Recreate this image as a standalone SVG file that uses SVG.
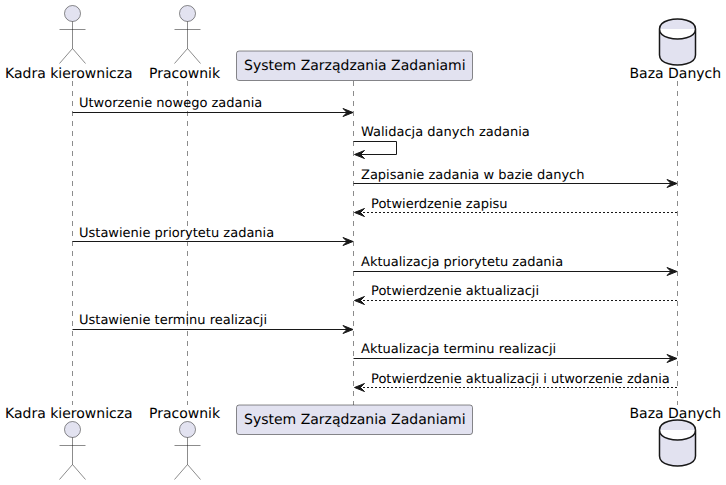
<svg xmlns="http://www.w3.org/2000/svg" width="726" height="485" viewBox="0 0 726 485">
<style>
text{font-family:"DejaVu Sans",sans-serif;fill:#000;text-rendering:geometricPrecision}
.n{font-size:14px}
.m{font-size:13px}
.life{stroke:#181818;stroke-width:.5;stroke-dasharray:5 5;fill:none}
.actor{fill:none;stroke:#181818;stroke-width:.5}
.head{fill:#E2E2F0;stroke:#181818;stroke-width:.5}
.box{fill:#E2E2F0;stroke:#181818;stroke-width:.5}
.db{fill:#E2E2F0;stroke:#181818;stroke-width:1.5}
.line{stroke:#181818;stroke-width:1;fill:none}
.ret{stroke:#181818;stroke-width:1;fill:none;stroke-dasharray:2 2}
.ah{fill:#181818;stroke:#181818;stroke-width:1}
</style>
<defs>
<g id="act"><circle class="head" cx="0" cy="0" r="8"/><path class="actor" d="M0,8V35M-13,16H13M0,35L-13,50M0,35L13,50"/></g>
<path id="db" class="db" d="M-18,10C-18,0 0,0 0,0C0,0 18,0 18,10V36C18,46 0,46 0,46C0,46 -18,46 -18,36ZM-18,10C-18,20 0,20 0,20C0,20 18,20 18,10"/>
<path id="ar" class="ah" d="M0,0L-10,-4L-6,0L-10,4Z"/>
<path id="al" class="ah" d="M0,0L10,-4L6,0L10,4Z"/>
</defs>
<g id="lifelines">
<path class="life" d="M72.500,81V405M187.500,81V405M353.500,81V405M677.500,81V405"/>
</g>
<g id="connectors">
<path class="line" d="M72.500,112.500H352"/><use href="#ar" x="353" y="112.500"/>
<path class="line" d="M353.500,141.500H396.500V154.500H355"/><use href="#al" x="354.500" y="154.500"/>
<path class="line" d="M353.500,183.500H676"/><use href="#ar" x="677" y="183.500"/>
<path class="ret" d="M355,212.500H677"/><use href="#al" x="354.500" y="212.500"/>
<path class="line" d="M72.500,241.500H352"/><use href="#ar" x="353" y="241.500"/>
<path class="line" d="M353.500,271.500H676"/><use href="#ar" x="677" y="271.500"/>
<path class="ret" d="M355,300.500H677"/><use href="#al" x="354.500" y="300.500"/>
<path class="line" d="M72.500,329.500H352"/><use href="#ar" x="353" y="329.500"/>
<path class="line" d="M353.500,358.500H676"/><use href="#ar" x="677" y="358.500"/>
<path class="ret" d="M355,387.500H677"/><use href="#al" x="354.500" y="387.500"/>
</g>
<g id="labels">
<text class="m" x="79" y="107">Utworzenie nowego zadania</text>
<text class="m" x="361" y="136">Walidacja danych zadania</text>
<text class="m" x="361" y="179">Zapisanie zadania w bazie danych</text>
<text class="m" x="371" y="208">Potwierdzenie zapisu</text>
<text class="m" x="79" y="237">Ustawienie priorytetu zadania</text>
<text class="m" x="361" y="266">Aktualizacja priorytetu zadania</text>
<text class="m" x="371" y="295">Potwierdzenie aktualizacji</text>
<text class="m" x="79" y="324">Ustawienie terminu realizacji</text>
<text class="m" x="361" y="353">Aktualizacja terminu realizacji</text>
<text class="m" x="371" y="383">Potwierdzenie aktualizacji i utworzenie zdania</text>
</g>
<g id="kadra-top"><use href="#act" x="72.500" y="13.500"/><text class="n" x="5" y="78">Kadra kierownicza</text></g>
<g id="pracownik-top"><use href="#act" x="187.500" y="13.500"/><text class="n" x="149" y="78">Pracownik</text></g>
<g id="system-top"><rect class="box" x="236.500" y="51" width="236" height="29.500" rx="2.500"/><text class="n" x="244" y="70">System Zarządzania Zadaniami</text></g>
<g id="baza-top"><use href="#db" x="677.500" y="19"/><text class="n" x="629.500" y="78">Baza Danych</text></g>
<g id="kadra-bottom"><text class="n" x="5" y="418">Kadra kierownicza</text><use href="#act" x="72.500" y="429.500"/></g>
<g id="pracownik-bottom"><text class="n" x="149" y="418">Pracownik</text><use href="#act" x="187.500" y="429.500"/></g>
<g id="system-bottom"><rect class="box" x="236.500" y="405" width="236" height="29.500" rx="2.500"/><text class="n" x="244" y="424">System Zarządzania Zadaniami</text></g>
<g id="baza-bottom"><text class="n" x="629.500" y="418">Baza Danych</text><use href="#db" x="677.500" y="420"/></g>
</svg>
